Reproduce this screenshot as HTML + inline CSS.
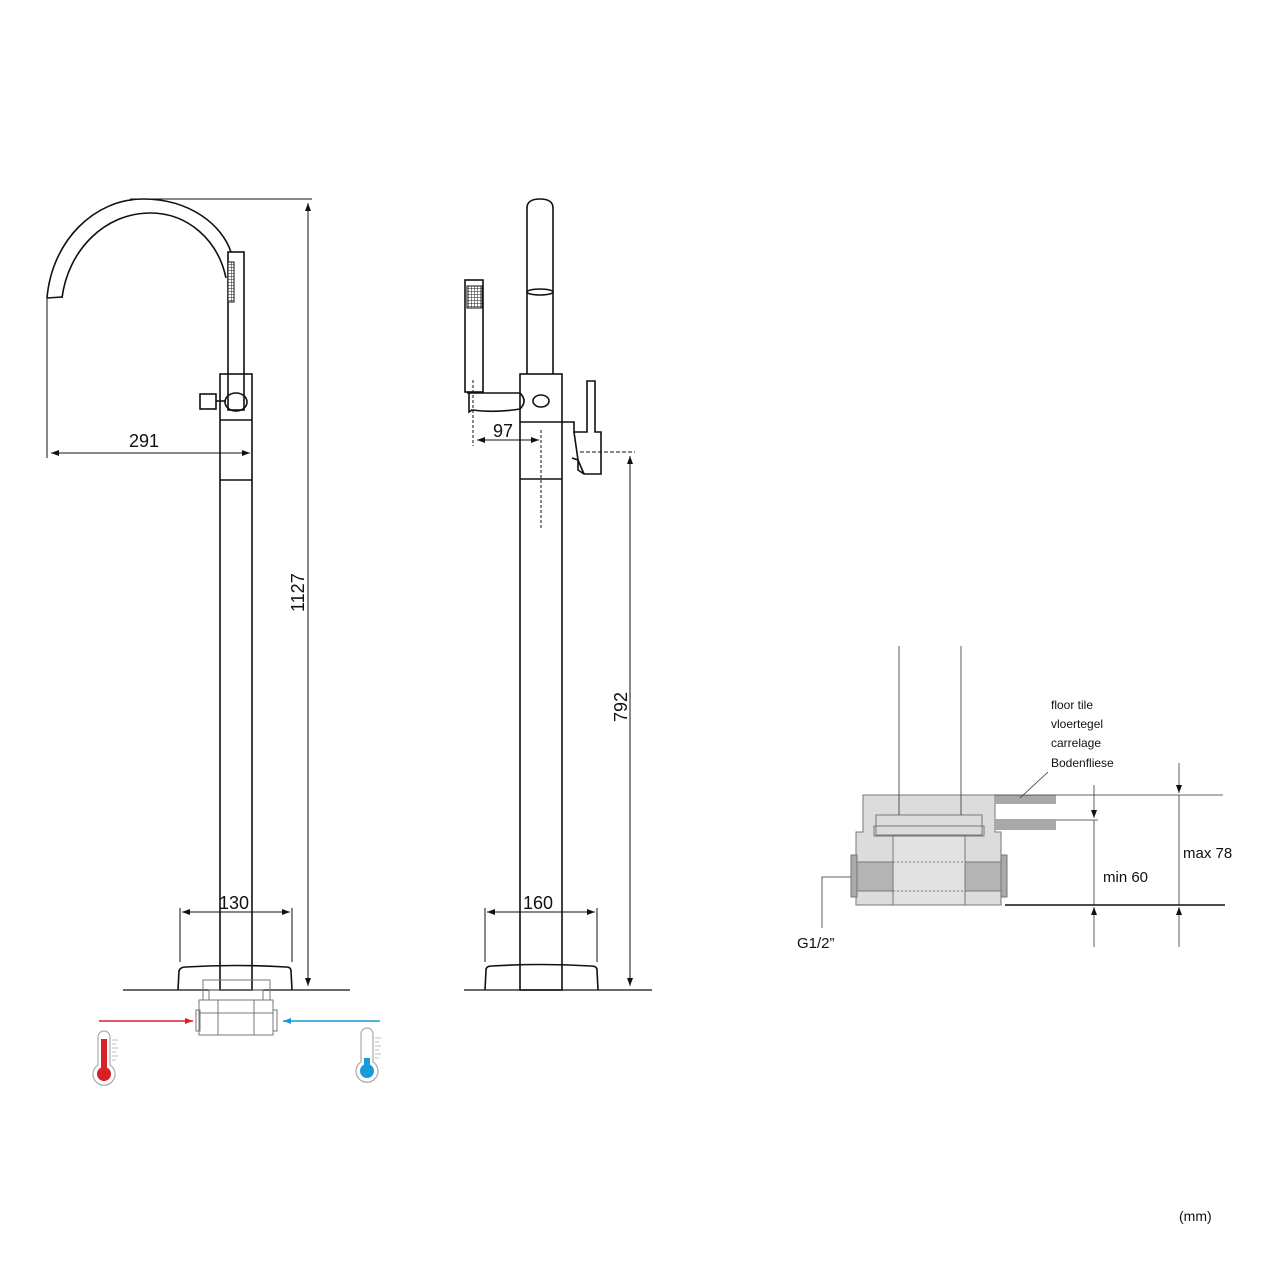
<!DOCTYPE html>
<html><head><meta charset="utf-8"><style>
html,body{margin:0;padding:0;background:#fff}
svg{display:block}
text{font-family:"Liberation Sans",Arial,sans-serif;fill:#111}
</style></head><body>
<svg width="1280" height="1280" viewBox="0 0 1280 1280" xmlns="http://www.w3.org/2000/svg">
<defs>
<marker id="a" markerWidth="8" markerHeight="6" refX="8" refY="3" orient="auto-start-reverse" markerUnits="userSpaceOnUse"><path d="M0,0L8,3L0,6z" fill="#111"/></marker>
<marker id="r" markerWidth="8" markerHeight="6" refX="8" refY="3" orient="auto" markerUnits="userSpaceOnUse"><path d="M0,0L8,3L0,6z" fill="#d8202a"/></marker>
<marker id="b" markerWidth="8" markerHeight="6" refX="8" refY="3" orient="auto" markerUnits="userSpaceOnUse"><path d="M0,0L8,3L0,6z" fill="#1a9ad6"/></marker>
<pattern id="g" width="3" height="3" patternUnits="userSpaceOnUse"><rect width="3" height="3" fill="#fff"/><path d="M0,0H3M0,0V3" stroke="#222" stroke-width="1"/></pattern>
</defs>
<g fill="none" stroke="#111" stroke-width="1.6">
<path d="M47,298 C52,240 95,199 143,199 C190,199 222,225 231,252"/>
<path d="M62,298 C68,250 105,213 150,213 C188,213 218,240 226,278"/>
<path d="M47,298 L62,297"/>
<rect x="228" y="252" width="16" height="158"/>
<rect x="228" y="262" width="6" height="40" fill="url(#g)" stroke-width="1"/>
<rect x="220" y="374" width="32" height="616"/>
<line x1="220" y1="420" x2="252" y2="420"/>
<line x1="220" y1="480" x2="252" y2="480"/>
<rect x="200" y="394" width="16" height="15"/>
<line x1="216" y1="401" x2="226" y2="401"/>
<ellipse cx="236" cy="402" rx="11" ry="9"/>
<path d="M178,990 L179,971 Q180,967 186,967 Q236,964 286,967 Q291,967 291,971 L292,990"/>
</g>
<g stroke="#111" stroke-width="1" fill="none">
<line x1="130" y1="199" x2="312" y2="199"/>
<line x1="308" y1="203" x2="308" y2="986" marker-start="url(#a)" marker-end="url(#a)"/>
<line x1="47" y1="297" x2="47" y2="458"/>
<line x1="51" y1="453" x2="250" y2="453" marker-start="url(#a)" marker-end="url(#a)"/>
<line x1="180" y1="908" x2="180" y2="962"/>
<line x1="292" y1="908" x2="292" y2="962"/>
<line x1="182" y1="912" x2="290" y2="912" marker-start="url(#a)" marker-end="url(#a)"/>
<line x1="123" y1="990" x2="350" y2="990" stroke-width="1.3"/>
<g stroke="#777">
<rect x="203" y="980" width="67" height="20"/>
<rect x="209" y="990" width="54" height="10"/>
<path d="M199,1000 H273 V1035 H199 Z"/>
<line x1="218" y1="1000" x2="218" y2="1035"/>
<line x1="254" y1="1000" x2="254" y2="1035"/>
<line x1="199" y1="1013" x2="273" y2="1013"/>
<rect x="196" y="1010" width="4" height="21"/><rect x="273" y="1010" width="4" height="21"/>
</g>
</g>
<line x1="99" y1="1021" x2="193" y2="1021" stroke="#d8202a" stroke-width="1.5" marker-end="url(#r)"/>
<line x1="380" y1="1021" x2="283" y2="1021" stroke="#1a9ad6" stroke-width="1.5" marker-end="url(#b)"/>
<g stroke="#aaa" stroke-width="1.2" fill="#fff">
<path d="M98,1037 a6,6 0 0 1 12,0 v28 a11,11 0 1 1 -12,0z"/>
<path d="M361,1034 a6,6 0 0 1 12,0 v28 a11,11 0 1 1 -12,0z"/>
</g>
<rect x="101" y="1039" width="6" height="32" fill="#d8202a"/><circle cx="104" cy="1074" r="7" fill="#d8202a"/>
<rect x="364" y="1058" width="6" height="12" fill="#1a9ad6"/><circle cx="367" cy="1071" r="7" fill="#1a9ad6"/>
<g stroke="#aaa" stroke-width="0.8">
<path d="M112,1040h6M112,1044h4M112,1048h6M112,1052h4M112,1056h6M112,1060h4"/>
<path d="M375,1038h6M375,1042h4M375,1046h6M375,1050h4M375,1054h6M375,1058h4"/>
</g>
<g fill="none" stroke="#111" stroke-width="1.6">
<path d="M527,374 V208 Q527,199 540,199 Q553,199 553,208 V374"/>
<ellipse cx="540" cy="292" rx="13" ry="3"/>
<rect x="520" y="374" width="42" height="616"/>
<line x1="520" y1="422" x2="562" y2="422"/>
<line x1="520" y1="479" x2="562" y2="479"/>
<ellipse cx="541" cy="401" rx="8" ry="6"/>
<rect x="465" y="280" width="18" height="112"/>
<rect x="467" y="286" width="15" height="22" fill="url(#g)" stroke-width="1"/>
<path d="M467,393 H520 Q528,401 520,409 Q495,413 472,410 L469,412 V393"/>
<path d="M562,422 H574 V432 H587 V381 H595 V432 H601 V474 H584 L578,470 V460 L572,458"/>
<path d="M574,432 L578,460 L584,474"/>
<path d="M485,990 L486,970 Q486,966 492,966 Q541,963 591,966 Q597,966 597,970 L598,990"/>
</g>
<g stroke="#111" stroke-width="1" fill="none">
<line x1="473" y1="380" x2="473" y2="446" stroke-dasharray="3,2"/>
<line x1="541" y1="430" x2="541" y2="528" stroke-dasharray="3,2"/>
<line x1="477" y1="440" x2="539" y2="440" marker-start="url(#a)" marker-end="url(#a)"/>
<line x1="580" y1="452" x2="635" y2="452" stroke-dasharray="4,2"/>
<line x1="630" y1="456" x2="630" y2="986" marker-start="url(#a)" marker-end="url(#a)"/>
<line x1="485" y1="908" x2="485" y2="962"/>
<line x1="597" y1="908" x2="597" y2="962"/>
<line x1="487" y1="912" x2="595" y2="912" marker-start="url(#a)" marker-end="url(#a)"/>
<line x1="464" y1="990" x2="652" y2="990" stroke-width="1.3"/>
</g>
<g stroke="#777" stroke-width="1">
<path d="M863,795 H995 V832 H1001 V905 H856 V832 H863 Z" fill="#dcdcdc"/>
<rect x="876" y="815" width="106" height="20" fill="#dcdcdc"/>
<rect x="874" y="826" width="110" height="10" fill="none"/>
<rect x="893" y="836" width="72" height="69" fill="#e2e2e2"/>
<rect x="857" y="862" width="36" height="29" fill="#b4b4b4"/>
<rect x="965" y="862" width="36" height="29" fill="#b4b4b4"/>
<line x1="893" y1="862" x2="965" y2="862" stroke-dasharray="2,2"/>
<line x1="893" y1="891" x2="965" y2="891" stroke-dasharray="2,2"/>
<rect x="851" y="855" width="6" height="42" fill="#aaa"/>
<rect x="1001" y="855" width="6" height="42" fill="#aaa"/>
</g>
<rect x="995" y="795" width="61" height="9" fill="#a8a8a8"/>
<rect x="995" y="819" width="61" height="11" fill="#a8a8a8"/>
<g stroke="#333" stroke-width="0.8" fill="none">
<line x1="899" y1="646" x2="899" y2="815"/>
<line x1="961" y1="646" x2="961" y2="815"/>
<line x1="1020" y1="798" x2="1048" y2="772"/>
<line x1="995" y1="795" x2="1223" y2="795"/>
<line x1="1056" y1="820" x2="1098" y2="820"/>
<line x1="1094" y1="785" x2="1094" y2="818" marker-end="url(#a)"/>
<line x1="1094" y1="947" x2="1094" y2="907" marker-end="url(#a)"/>
<line x1="1094" y1="820" x2="1094" y2="905"/>
<line x1="1179" y1="763" x2="1179" y2="793" marker-end="url(#a)"/>
<line x1="1179" y1="947" x2="1179" y2="907" marker-end="url(#a)"/>
<line x1="1179" y1="795" x2="1179" y2="905"/>
<path d="M851,877 H822 V928"/>
</g>
<line x1="1005" y1="905" x2="1225" y2="905" stroke="#111" stroke-width="1.6"/>
<g font-size="18">
<text x="129" y="447">291</text>
<text x="219" y="909">130</text>
<text x="493" y="437">97</text>
<text x="523" y="909">160</text>
<text transform="translate(304,612) rotate(-90)">1127</text>
<text transform="translate(627,722) rotate(-90)">792</text>
<text x="1103" y="882" font-size="15">min 60</text>
<text x="1183" y="858" font-size="15">max 78</text>
<text x="797" y="948" font-size="15">G1/2”</text>
<text x="1179" y="1221" font-size="14">(mm)</text>
</g>
<g font-size="12">
<text x="1051" y="709">floor tile</text>
<text x="1051" y="728">vloertegel</text>
<text x="1051" y="747">carrelage</text>
<text x="1051" y="767">Bodenfliese</text>
</g>
</svg>
</body></html>
